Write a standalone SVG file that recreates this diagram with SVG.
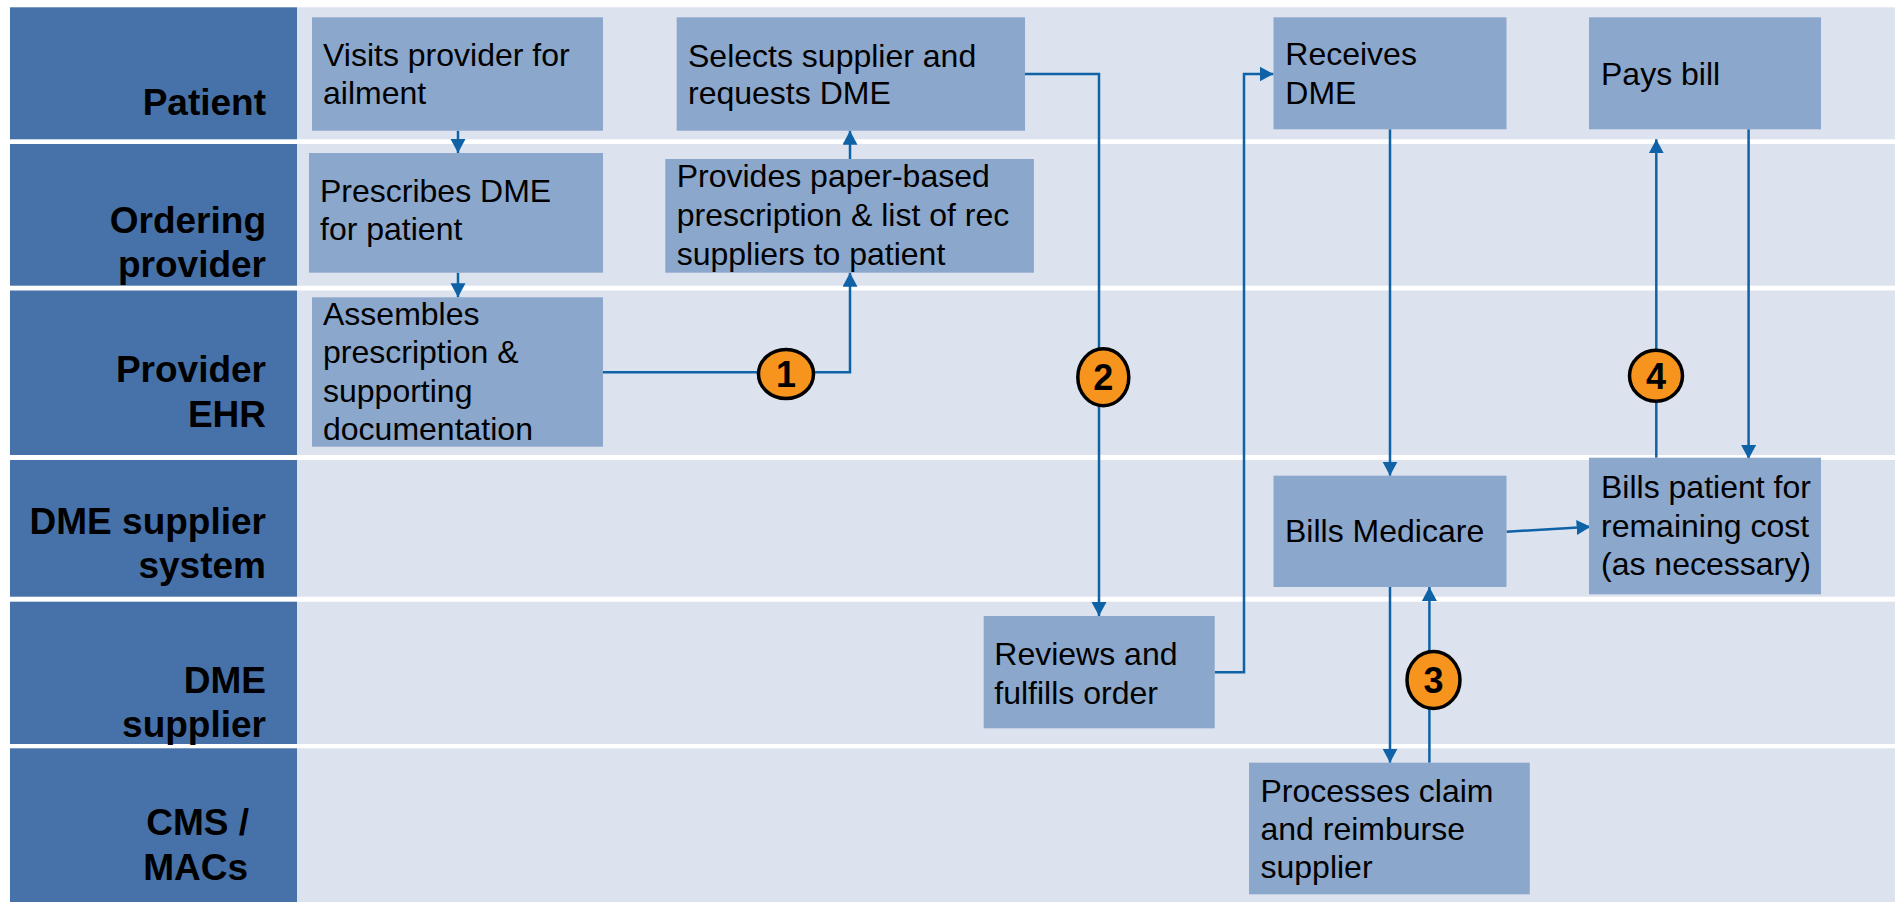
<svg xmlns="http://www.w3.org/2000/svg" width="1895" height="902" viewBox="0 0 1895 902">
<style>
.hdr{fill:#4772A9}
.lane{fill:#DCE3EE}
.box{fill:#8BA7CC}
.lbl{font-family:"Liberation Sans",Arial,sans-serif;font-weight:bold;font-size:37px;fill:#000;text-anchor:end}
.txt{font-family:"Liberation Sans",Arial,sans-serif;font-size:32px;fill:#000}
.con{fill:none;stroke:#0F62A6;stroke-width:2.5}
.badge ellipse{fill:#F7941E;stroke:#000;stroke-width:3.5}
.badge text{font-family:"Liberation Sans",Arial,sans-serif;font-weight:bold;font-size:36px;fill:#000;text-anchor:middle}
</style>
<defs>
<marker id="ah" markerUnits="userSpaceOnUse" markerWidth="16" markerHeight="16" refX="14" refY="7.5" orient="auto">
<path d="M0,0 L14,7.5 L0,15 z" fill="#0F62A6"/>
</marker>
</defs>
<rect x="0" y="0" width="1895" height="902" fill="#FFFFFF"/>
<g id="lanes">
<rect class="hdr" x="10" y="7.3" width="287" height="132"/>
<rect class="lane" x="297" y="7.3" width="1598" height="132"/>
<rect class="hdr" x="10" y="144" width="287" height="141.7"/>
<rect class="lane" x="297" y="144" width="1598" height="141.7"/>
<rect class="hdr" x="10" y="290.5" width="287" height="164.5"/>
<rect class="lane" x="297" y="290.5" width="1598" height="164.5"/>
<rect class="hdr" x="10" y="460" width="287" height="136.7"/>
<rect class="lane" x="297" y="460" width="1598" height="136.7"/>
<rect class="hdr" x="10" y="601.7" width="287" height="142.3"/>
<rect class="lane" x="297" y="601.7" width="1598" height="142.3"/>
<rect class="hdr" x="10" y="748.3" width="287" height="153.7"/>
<rect class="lane" x="297" y="748.3" width="1598" height="153.7"/>
<text class="lbl" x="266" y="115">Patient</text>
<text class="lbl" x="266" y="233">Ordering</text>
<text class="lbl" x="266" y="276.7">provider</text>
<text class="lbl" x="266" y="381.7">Provider</text>
<text class="lbl" x="266" y="426.7">EHR</text>
<text class="lbl" x="266" y="534">DME supplier</text>
<text class="lbl" x="266" y="578.3">system</text>
<text class="lbl" x="266" y="693.3">DME</text>
<text class="lbl" x="266" y="736.7">supplier</text>
<text class="lbl" x="249" y="835">CMS /</text>
<text class="lbl" x="248" y="880">MACs</text>
</g>
<g id="connectors">
<path class="con" d="M458,130.7 V153" marker-end="url(#ah)"/>
<path class="con" d="M458,272.7 V297.3" marker-end="url(#ah)"/>
<path class="con" d="M603,372.3 H850 V272.7" marker-end="url(#ah)"/>
<path class="con" d="M850,159 V130.7" marker-end="url(#ah)"/>
<path class="con" d="M1025,74 H1099 V616" marker-end="url(#ah)"/>
<path class="con" d="M1214.7,672.3 H1244 V74 H1273.5" marker-end="url(#ah)"/>
<path class="con" d="M1390,129.3 V475.7" marker-end="url(#ah)"/>
<path class="con" d="M1390,587 V762.7" marker-end="url(#ah)"/>
<path class="con" d="M1429.4,762.7 V587" marker-end="url(#ah)"/>
<path class="con" d="M1506.5,531.7 L1590.6,526.7" marker-end="url(#ah)"/>
<path class="con" d="M1656.3,457.7 V139.3" marker-end="url(#ah)"/>
<path class="con" d="M1748.6,129.3 V459" marker-end="url(#ah)"/>
</g>
<g id="n-visits">
<rect class="box" x="312" y="17.3" width="291" height="113.4"/>
<text class="txt" x="323" y="66"><tspan x="323">Visits provider for</tspan><tspan x="323" y="104">ailment</tspan></text>
</g>
<g id="n-prescribes">
<rect class="box" x="309" y="153" width="294" height="119.7"/>
<text class="txt" x="320" y="202"><tspan x="320">Prescribes DME</tspan><tspan x="320" y="240">for patient</tspan></text>
</g>
<g id="n-assembles">
<rect class="box" x="312" y="297.3" width="291" height="149.4"/>
<text class="txt" x="323" y="325"><tspan x="323">Assembles</tspan><tspan x="323" y="363.3">prescription &amp;</tspan><tspan x="323" y="401.7">supporting</tspan><tspan x="323" y="440.3">documentation</tspan></text>
</g>
<g id="n-selects">
<rect class="box" x="676.7" y="17.3" width="348.3" height="113.4"/>
<text class="txt" x="688" y="66.7"><tspan x="688">Selects supplier and</tspan><tspan x="688" y="104">requests DME</tspan></text>
</g>
<g id="n-provides">
<rect class="box" x="665.3" y="159" width="368.6" height="113.7"/>
<text class="txt" x="676.7" y="187.3"><tspan x="676.7">Provides paper-based</tspan><tspan x="676.7" y="226.3">prescription &amp; list of rec</tspan><tspan x="676.7" y="265">suppliers to patient</tspan></text>
</g>
<g id="n-receives">
<rect class="box" x="1273.5" y="17.3" width="233" height="112"/>
<text class="txt" x="1285.3" y="65"><tspan x="1285.3">Receives</tspan><tspan x="1285.3" y="104">DME</tspan></text>
</g>
<g id="n-paysbill">
<rect class="box" x="1589" y="17.3" width="232" height="112"/>
<text class="txt" x="1601" y="85">Pays bill</text>
</g>
<g id="n-billsmedicare">
<rect class="box" x="1273.5" y="475.7" width="233" height="111.3"/>
<text class="txt" x="1285" y="541.7">Bills Medicare</text>
</g>
<g id="n-billspatient">
<rect class="box" x="1589" y="457.7" width="232" height="136.6"/>
<text class="txt" x="1601" y="498.3"><tspan x="1601">Bills patient for</tspan><tspan x="1601" y="536.7">remaining cost</tspan><tspan x="1601" y="575">(as necessary)</tspan></text>
</g>
<g id="n-reviews">
<rect class="box" x="983.7" y="616" width="231" height="112.3"/>
<text class="txt" x="994.3" y="665"><tspan x="994.3">Reviews and</tspan><tspan x="994.3" y="704">fulfills order</tspan></text>
</g>
<g id="n-processes">
<rect class="box" x="1249" y="762.7" width="280.8" height="131.6"/>
<text class="txt" x="1260.5" y="801.7"><tspan x="1260.5">Processes claim</tspan><tspan x="1260.5" y="840">and reimburse</tspan><tspan x="1260.5" y="877.7">supplier</tspan></text>
</g>
<g id="badge1" class="badge">
<ellipse cx="786" cy="374" rx="27.5" ry="24.5"/>
<text x="786" y="387">1</text>
</g>
<g id="badge2" class="badge">
<ellipse cx="1103.3" cy="377.3" rx="25.5" ry="28.5"/>
<text x="1103.3" y="390.3">2</text>
</g>
<g id="badge3" class="badge">
<ellipse cx="1433.5" cy="680" rx="26.5" ry="28.5"/>
<text x="1433.5" y="693">3</text>
</g>
<g id="badge4" class="badge">
<ellipse cx="1656" cy="375.7" rx="26.5" ry="25.5"/>
<text x="1656" y="388.7">4</text>
</g>
</svg>
